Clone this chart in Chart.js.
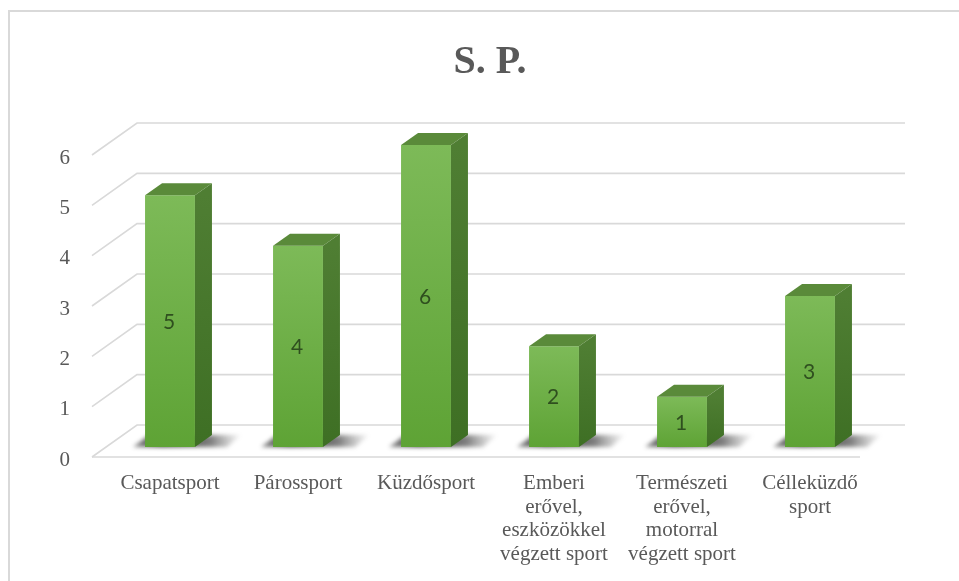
<!DOCTYPE html>
<html>
<head>
<meta charset="utf-8">
<script src="https://cdn.jsdelivr.net/npm/chart.js@4/dist/chart.umd.min.js"></script>
<style>
  html, body { margin: 0; padding: 0; background: #fff; }
  canvas { display: block; }
</style>
</head>
<body>
<canvas id="spChart" width="959" height="581"></canvas>
<script>
const categories = [
  ['Csapatsport'],
  ['Párossport'],
  ['Küzdősport'],
  ['Emberi', 'erővel,', 'eszközökkel', 'végzett sport'],
  ['Természeti', 'erővel,', 'motorral', 'végzett sport'],
  ['Célleküzdő', 'sport']
];
const values = [5, 4, 6, 2, 1, 3];
const yTicks = [0, 1, 2, 3, 4, 5, 6];

// 3D offsets (pixels) relative to the bar plane
const FRONT = { dx: -14, dy: 10 };
const BACK = { dx: 31, dy: -22 };
const DEPTH = { dx: 17, dy: -12 };

const textGray = '#595959';
const gridGray = '#d9d9d9';
const serif = '"Liberation Serif", "Times New Roman", serif';

// frame + 3D grid (walls and floor)
const wallsPlugin = {
  id: 'walls',
  beforeDraw(chart) {
    const c = chart.ctx;
    c.save();
    c.strokeStyle = '#d9d9d9';
    c.lineWidth = 2;
    c.beginPath();
    c.moveTo(9, 600);
    c.lineTo(9, 11);
    c.lineTo(980, 11);
    c.stroke();
    c.restore();
  },
  beforeDatasetsDraw(chart) {
    const c = chart.ctx;
    const { left, right } = chart.chartArea;
    const y = chart.scales.y;
    c.save();
    c.strokeStyle = gridGray;
    c.lineWidth = 1.6;
    yTicks.forEach(v => {
      const py = y.getPixelForValue(v);
      c.beginPath();
      c.moveTo(left + FRONT.dx, py + FRONT.dy);
      c.lineTo(left + BACK.dx, py + BACK.dy);
      c.lineTo(right + BACK.dx, py + BACK.dy);
      c.stroke();
    });
    // front edge of the floor
    const p0 = y.getPixelForValue(0);
    c.beginPath();
    c.moveTo(left + FRONT.dx, p0 + FRONT.dy);
    c.lineTo(right + FRONT.dx, p0 + FRONT.dy);
    c.stroke();

    // shadows on the floor
    const meta = chart.getDatasetMeta(0);
    c.filter = 'blur(2px)';
    meta.data.forEach(bar => {
      const { x, base, width } = bar.getProps(['x', 'base', 'width'], true);
      const l = x - width / 2, r = x + width / 2;
      const g = c.createLinearGradient(l - 10, 0, r + 48, 0);
      g.addColorStop(0, 'rgba(30,30,30,0.5)');
      g.addColorStop(0.25, 'rgba(15,15,15,0.85)');
      g.addColorStop(0.7, 'rgba(40,40,40,0.6)');
      g.addColorStop(1, 'rgba(90,90,90,0)');
      c.fillStyle = g;
      c.beginPath();
      c.moveTo(l - 12, base);
      c.lineTo(r + 32, base);
      c.lineTo(r + 46, base - 12);
      c.lineTo(l + 4, base - 12);
      c.closePath();
      c.fill();
    });
    c.restore();
  },
  afterDatasetsDraw(chart) {
    const c = chart.ctx;
    const meta = chart.getDatasetMeta(0);
    c.save();
    meta.data.forEach((bar, i) => {
      const { x, y, base, width } = bar.getProps(['x', 'y', 'base', 'width'], true);
      const l = x - width / 2, r = x + width / 2;
      // top face
      c.fillStyle = '#5a8a3a';
      c.beginPath();
      c.moveTo(l, y);
      c.lineTo(l + DEPTH.dx, y + DEPTH.dy);
      c.lineTo(r + DEPTH.dx, y + DEPTH.dy);
      c.lineTo(r, y);
      c.closePath();
      c.fill();
      // side face
      const sg = c.createLinearGradient(0, y, 0, base);
      sg.addColorStop(0, '#4f7e33');
      sg.addColorStop(1, '#3e6f24');
      c.fillStyle = sg;
      c.beginPath();
      c.moveTo(r, y);
      c.lineTo(r + DEPTH.dx, y + DEPTH.dy);
      c.lineTo(r + DEPTH.dx, base + DEPTH.dy);
      c.lineTo(r, base);
      c.closePath();
      c.fill();
      // value label
      c.fillStyle = '#2f4f1f';
      c.font = '21px Lato, "Open Sans", sans-serif';
      c.textAlign = 'center';
      c.textBaseline = 'middle';
      c.fillText(String(values[i]), x - 1, (y + base) / 2 + 1);
    });
    c.restore();
  }
};

function frontFill(ctx) {
  const chart = ctx.chart;
  const ys = chart.scales.y;
  if (!chart.chartArea || !ys) return '#6cae42';
  const top = ys.getPixelForValue(values[ctx.dataIndex]);
  const bottom = ys.getPixelForValue(0);
  const g = chart.ctx.createLinearGradient(0, top, 0, bottom);
  g.addColorStop(0, '#7dba58');
  g.addColorStop(1, '#5ea335');
  return g;
}

new Chart(document.getElementById('spChart'), {
  type: 'bar',
  data: {
    labels: categories,
    datasets: [{
      data: values,
      backgroundColor: frontFill,
      borderWidth: 0,
      barPercentage: 0.39,
      categoryPercentage: 1
    }]
  },
  options: {
    responsive: false,
    animation: false,
    devicePixelRatio: 1,
    layout: { padding: { left: 21, right: 0, top: 0, bottom: 0 } },
    plugins: {
      legend: { display: false },
      tooltip: { enabled: false },
      title: {
        display: true,
        text: 'S. P.',
        color: textGray,
        font: { family: serif, size: 40, weight: 'bold' },
        padding: { top: 39, bottom: 58 }
      }
    },
    scales: {
      x: {
        grid: { display: false, drawTicks: false },
        border: { display: false },
        ticks: {
          color: textGray,
          font: { family: serif, size: 21, lineHeight: 1.12 },
          padding: 25,
          maxRotation: 0,
          autoSkip: false
        },
        afterFit(scale) { scale.height = 134; }
      },
      y: {
        min: 0,
        max: 6,
        grid: { display: false, drawTicks: false },
        border: { display: false },
        ticks: {
          stepSize: 1,
          color: textGray,
          font: { family: serif, size: 21 },
          padding: 36,
          labelOffset: 13
        },
        afterFit(scale) { scale.width = 85; }
      },
      // empty right-hand axis that only reserves the right margin
      yRight: {
        position: 'right',
        grid: { display: false, drawTicks: false },
        border: { display: false },
        ticks: { display: false },
        afterFit(scale) { scale.width = 85; }
      }
    }
  },
  plugins: [wallsPlugin]
});
</script>
</body>
</html>
